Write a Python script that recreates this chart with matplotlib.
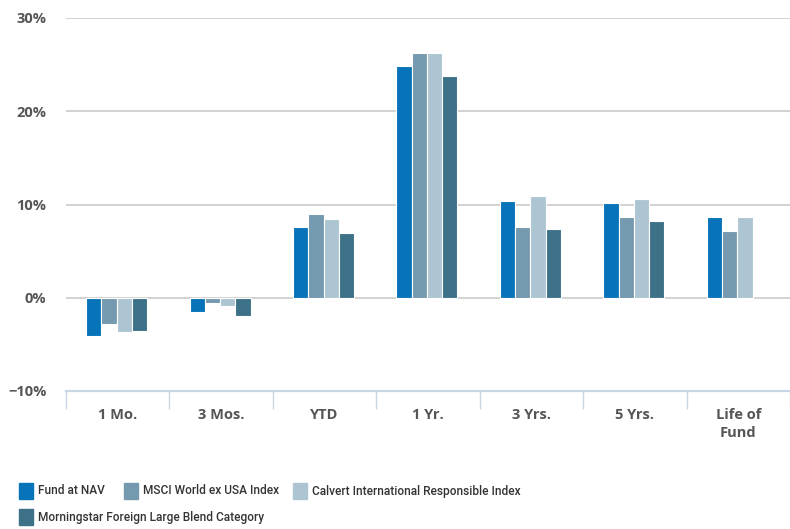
import numpy as np
import matplotlib.pyplot as plt
from matplotlib.patches import Rectangle

categories = ["1 Mo.", "3 Mos.", "YTD", "1 Yr.", "3 Yrs.", "5 Yrs.", "Life of\nFund"]
series_names = ["Fund at NAV", "MSCI World ex USA Index",
                "Calvert International Responsible Index",
                "Morningstar Foreign Large Blend Category"]
fund = [-4.1, -1.5, 7.6, 24.9, 10.4, 10.15, 8.65]
msci = [-2.8, -0.6, 9.0, 26.3, 7.6, 8.65, 7.2]
calvert = [-3.7, -0.9, 8.4, 26.2, 10.9, 10.6, 8.65]
morningstar = [-3.6, -1.95, 6.9, 23.8, 7.4, 8.25, np.nan]
colors = ["#0773b8", "#7599af", "#adc5d3", "#3c7188"]
yticks = [-10, 0, 10, 20, 30]

plt.rcParams['font.family'] = ['Open Sans', 'DejaVu Sans']

fig = plt.figure(figsize=(7.9, 5.29), dpi=100)
ax = fig.add_axes([66/790, 1-391/529, 1-66/790, (391-18)/529])

x = np.arange(len(categories))
w = 0.1475
for i, (vals, c) in enumerate(zip([fund, msci, calvert, morningstar], colors)):
    ax.bar(x + (i-1.5)*w - 0.01, vals, w, color=c, edgecolor="white",
           linewidth=0.8, zorder=3)

ax.set_xlim(-0.5, len(categories)-0.5)
ax.set_ylim(-10, 30)
ax.set_yticks(yticks)
ax.set_yticklabels([f"{t}%" if t >= 0 else f"\u2212{-t}%" for t in yticks],
                   fontsize=10.5, color="#555555", fontweight="bold")
for t in yticks[1:]:
    ax.axhline(t, color="#cfcfcf", linewidth=1.3, zorder=1)
ax.tick_params(axis="y", length=0, pad=14)

ax.set_xticks(x)
ax.set_xticklabels(categories, fontsize=10.5, color="#555555", fontweight="bold",
                   linespacing=1.35)
ax.set_xticks(np.arange(len(categories)+1) - 0.5, minor=True)
ax.tick_params(axis="x", which="major", length=0, pad=12)
ax.tick_params(axis="x", which="minor", length=13, width=1, color="#c8d6e5")

for s in ["top", "right", "left"]:
    ax.spines[s].set_visible(False)
ax.spines["bottom"].set_color("#c8d6e5")
ax.spines["bottom"].set_linewidth(1.6)

# legend drawn by hand: 3 items on first row, 1 on second
leg = [(19, 491, 38), (124, 491, 143), (293, 491, 312), (19, 517, 38)]
for (sx, cy, tx), name, c in zip(leg, series_names, colors):
    fig.patches.append(Rectangle((sx/790, 1-(cy+8)/529), 14/790, 16/529,
                                 transform=fig.transFigure, color=c))
    fig.text(tx/790, 1-cy/529, name, fontsize=8.6, color="#333333",
             family=["Roboto", "DejaVu Sans"], fontweight="medium",
             va="center", ha="left")

fig.savefig("out.png", dpi=100)
